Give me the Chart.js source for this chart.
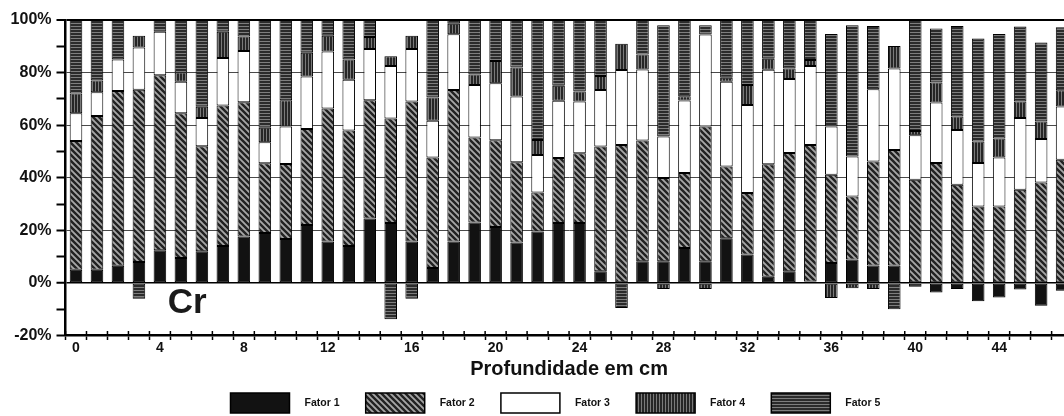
<!DOCTYPE html>
<html>
<head>
<meta charset="utf-8">
<script src="https://cdn.jsdelivr.net/npm/chart.js@4.4.1/dist/chart.umd.min.js"></script>
<style>
  html, body { margin: 0; padding: 0; background: #fff; overflow: hidden; width: 1064px; height: 416px; }
  canvas { display: block; }
</style>
</head>
<body>
<canvas id="c" width="1110" height="416"></canvas>
<script>
const depths = ['0','1','2','3','4','5','6','7','8','9','10','11','12','13','14','15','16','17','18','19','20','21','22','23','24','25','26','27','28','29','30','31','32','33','34','35','36','37','38','39','40','41','42','43','44','45','46','47'];

const fator1 = [5, 5, 6.5, 8, 12.4, 9.5, 12, 14, 17.7, 19, 16.7, 22, 15.8, 14, 24.5, 22.8, 15.8, 5.7, 15.8, 23, 21.3, 15.4, 19.6, 22.8, 22.8, 4.4, 0, 8.2, 8.2, 13.3, 8.2, 17, 10.8, 2.3, 4.4, 0.5, 7.6, 8.9, 6.6, 6.6, -1.5, -3.6, -2.3, -7, -5.5, -2.5, -8.7, -3];
const fator2 = [49, 58.5, 66.5, 65.5, 66.6, 55, 40, 53.5, 51, 26.5, 28.5, 36.5, 50.5, 44, 45, 39.7, 53.2, 42, 57.6, 32.3, 33, 30.5, 14.8, 24.7, 26.5, 47.5, 52.5, 46, 31.7, 28.5, 51.3, 27.3, 23.4, 42.8, 45, 52, 33.5, 24, 39.6, 44, 39.2, 45.6, 37.3, 29.1, 29.1, 35.4, 38.2, 46.8];
const fator3 = [10.5, 9, 12, 16, 16.5, 12, 10.7, 18, 19.5, 8, 14.3, 20, 21.7, 19.3, 19.5, 20, 20, 14, 21.2, 20, 21.6, 25, 14.3, 21.8, 19.7, 21.5, 28.5, 27, 15.8, 27.6, 35, 32.2, 33.5, 36, 28.2, 30, 18.4, 15.2, 27.5, 31, 17, 23, 20.9, 16.5, 18.6, 27.3, 16.5, 20.3];
const fator4 = [7.5, 4.5, 0, 4.5, 0, 3.5, 4.3, 10, 5.5, 5.5, 10, 9, 6, 7.7, 4.5, 3.7, 5, 8.8, 4, 4, 8.5, 11, 5.7, 5.7, 3.8, 5.3, 10, 5.7, -2.3, 1.6, -2.3, 1.5, 7.6, 4.2, 4, 2.3, -5.7, -2, -2.3, 8.5, 1.6, 7.6, 5.1, 8.2, 7.2, 6.3, 6.7, 6.2];
const fator5 = [28, 23, 15, -6, 4.5, 20, 33, 4.5, 6.3, 41, 30.5, 12.5, 6, 15, 6.5, -13.8, -6, 29.5, 1.4, 20.7, 15.6, 18.1, 45.6, 25, 27.2, 21.3, -9.5, 13.1, 42.3, 29, 3.5, 22, 24.7, 14.7, 18.4, 15.2, 35.2, 49.9, 24, -10, 42.2, 20.6, 34.4, 39.2, 39.8, 28.5, 30, 23.9];

const seriesNames = ['Fator 1', 'Fator 2', 'Fator 3', 'Fator 4', 'Fator 5'];
const xTitle = 'Profundidade em cm';
const yMin = -20, yMax = 100, yStep = 10;

const FONT = "'Liberation Sans', Arial, Helvetica, sans-serif";

function makePattern(w, h, draw) {
  const c = document.createElement('canvas');
  c.width = w; c.height = h;
  const g = c.getContext('2d');
  draw(g, w, h);
  return g.createPattern(c, 'repeat');
}
const patSolid = '#121212';
const patDiag = makePattern(6, 6, (g, w, h) => {
  g.fillStyle = '#a6a6a6'; g.fillRect(0, 0, w, h);
  g.strokeStyle = '#222'; g.lineWidth = 2.4; g.lineCap = 'square';
  g.beginPath();
  g.moveTo(-2, -2); g.lineTo(w + 2, h + 2);
  g.moveTo(-2, h - 2); g.lineTo(2, h + 2);
  g.moveTo(w - 2, -2); g.lineTo(w + 2, 2);
  g.stroke();
});
const patWhite = '#ffffff';
const patVert = makePattern(3, 1, (g) => {
  g.fillStyle = '#262626'; g.fillRect(0, 0, 3, 1);
  g.fillStyle = '#7a7a7a'; g.fillRect(2, 0, 1, 1);
});
const patHoriz = makePattern(1, 3, (g) => {
  g.fillStyle = '#2b2b2b'; g.fillRect(0, 0, 1, 3);
  g.fillStyle = '#7e7e7e'; g.fillRect(0, 2, 1, 1);
});

const fills = [patSolid, patDiag, patWhite, patVert, patHoriz];
const values = [fator1, fator2, fator3, fator4, fator5];

const datasets = values.map((vals, i) => ({
  label: seriesNames[i],
  data: vals,
  backgroundColor: fills[i],
  borderColor: '#000',
  borderWidth: 1,
  borderSkipped: false,
  categoryPercentage: 1.0,
  barPercentage: 0.6
}));

const extras = {
  id: 'extras',
  afterDraw(chart) {
    const ctx = chart.ctx;
    const xs = chart.scales.x, ys = chart.scales.y;
    const bottom = chart.chartArea.bottom;
    ctx.save();
    ctx.strokeStyle = '#000';
    ctx.lineWidth = 1.5;
    for (let i = 0; i <= depths.length; i++) {
      const x = xs.getPixelForValue(i - 0.5);
      ctx.beginPath();
      ctx.moveTo(x, bottom);
      ctx.lineTo(x, bottom - 4.5);
      ctx.stroke();
    }
    ctx.fillStyle = '#1a1a1a';
    ctx.font = 'bold 35px ' + FONT;
    ctx.textAlign = 'center';
    ctx.textBaseline = 'alphabetic';
    ctx.fillText('Cr', xs.getPixelForValue(5.3), ys.getPixelForValue(-11.4));
    const x0 = 230.5, pitch = 135.2, ly = 393, bw = 59, bh = 20;
    chart.data.datasets.forEach((ds, i) => {
      const bx = x0 + pitch * i;
      ctx.fillStyle = ds.backgroundColor;
      ctx.fillRect(bx, ly, bw, bh);
      ctx.strokeStyle = '#000';
      ctx.lineWidth = 1.5;
      ctx.strokeRect(bx, ly, bw, bh);
      ctx.fillStyle = '#111';
      ctx.font = 'bold 10.5px ' + FONT;
      ctx.textAlign = 'left';
      ctx.textBaseline = 'middle';
      ctx.fillText(ds.label, bx + bw + 15, ly + bh / 2);
    });
    ctx.restore();
  }
};

new Chart(document.getElementById('c'), {
  type: 'bar',
  data: { labels: depths, datasets },
  options: {
    responsive: false,
    animation: false,
    devicePixelRatio: 1,
    layout: { padding: { top: 20, left: 0, right: 37.4, bottom: 35 } },
    plugins: { legend: { display: false }, tooltip: { enabled: false } },
    scales: {
      x: {
        stacked: true,
        offset: true,
        grid: { offset: true, drawOnChartArea: false, tickLength: 4.5, color: '#000', tickColor: '#000', tickWidth: 1.5 },
        border: { color: '#000', width: 2.5 },
        ticks: {
          autoSkip: false, maxRotation: 0, minRotation: 0, padding: 0, color: '#111',
          font: { family: FONT, weight: 'bold', size: 14 },
          callback: (v, i) => (i % 4 === 0 ? depths[i] : '')
        },
        title: { display: true, text: xTitle, color: '#111', font: { family: FONT, weight: 'bold', size: 20 }, padding: { top: 0, bottom: 0 } },
        afterFit: (s) => { s.height = 45.5; }
      },
      y: {
        stacked: true,
        min: yMin, max: yMax,
        ticks: {
          stepSize: yStep, padding: 5, color: '#111',
          font: { family: FONT, weight: 'bold', size: 16 },
          callback: (v) => (v % 20 === 0 ? v + '%' : '')
        },
        grid: {
          color: (c) => {
            const v = c.tick ? c.tick.value : null;
            if (v === 100 || v === 0) return '#000';
            if (v === -20) return 'rgba(0,0,0,0)';
            if (v % 20 === 0) return '#4a4a4a';
            return 'rgba(0,0,0,0)';
          },
          lineWidth: (c) => {
            const v = c.tick ? c.tick.value : null;
            if (v === 100) return 2;
            if (v === 0) return 1.5;
            return 1;
          },
          tickColor: '#000', tickLength: 9, tickWidth: 2
        },
        border: { color: '#000', width: 2.5 },
        afterFit: (s) => { s.width = 65.5; }
      }
    }
  },
  plugins: [extras]
});
</script>
</body>
</html>
